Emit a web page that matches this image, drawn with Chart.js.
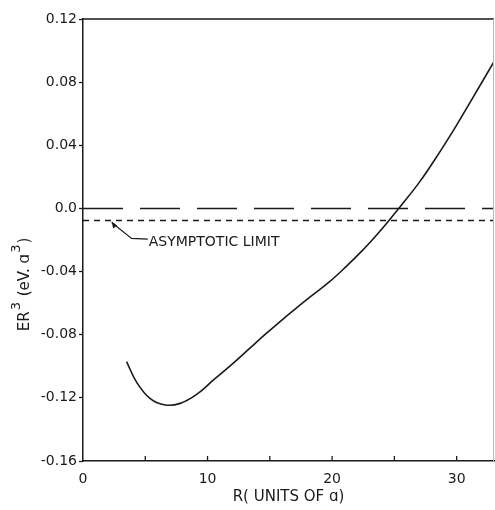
<!DOCTYPE html>
<html>
<head>
<meta charset="utf-8">
<script src="https://cdn.jsdelivr.net/npm/chart.js@4.4.1/dist/chart.umd.min.js"></script>
<style>
  html, body { margin: 0; padding: 0; background: #fff; }
  #wrap { width: 495px; height: 510px; }
</style>
</head>
<body>
<div id="wrap"><canvas id="chart" width="495" height="510"></canvas></div>
<script>
// R in units of a, and E*R^3 in eV.a^3
const rValues = [3.5, 4.3, 5.4, 6.6, 7.8, 9.1, 10.5, 12, 13.4, 14.6, 15.8, 17.1, 18.4, 19.8, 21.1, 22.4, 23.4, 24.3, 25.4, 27, 28.6, 30, 31.2, 33];
const er3Values = [-0.097, -0.110, -0.1205, -0.1245, -0.1235, -0.118, -0.1085, -0.0985, -0.0885, -0.0800, -0.0718, -0.0633, -0.0551, -0.0464, -0.0370, -0.0269, -0.0184, -0.0102, 0.0005, 0.0165, 0.0352, 0.0528, 0.0688, 0.093];

const asymptoticLimit = -0.0076;
const zeroLine = 0;
const rRange = [0, 33];

const yTicks = [0.12, 0.08, 0.04, 0.0, -0.04, -0.08, -0.12, -0.16];
const yTickLabels = ['0.12', '0.08', '0.04', '0.0', '-0.04', '-0.08', '-0.12', '-0.16'];
const xTickLabels = { 0: '0', 10: '10', 20: '20', 30: '30' };

// leader line for the asymptote note (data coords)
const noteArrow = [[2.3, -0.0076], [3.9, -0.0190], [5.2, -0.0195]];
const noteText = 'ASYMPTOTIC LIMIT';

const font = '"DejaVu Sans", sans-serif';
const ink = '#1a1a1a';

const curve = rValues.map((r, i) => ({ x: r, y: er3Values[i] }));

// frame, inward x ticks, axis titles and the note
const decorations = {
    id: 'decorations',
    afterDraw(chart) {
        const ctx = chart.ctx;
        const a = chart.chartArea;
        const xs = chart.scales.x;
        const ys = chart.scales.y;
        ctx.save();
        ctx.strokeStyle = ink;
        ctx.lineWidth = 1.5;
        ctx.beginPath();
        ctx.moveTo(a.left, a.top);
        ctx.lineTo(a.right, a.top);
        ctx.stroke();
        ctx.strokeStyle = '#bbb';
        ctx.lineWidth = 1;
        ctx.beginPath();
        ctx.moveTo(a.right - 0.5, a.top);
        ctx.lineTo(a.right - 0.5, a.bottom);
        ctx.stroke();

        ctx.strokeStyle = ink;
        ctx.lineWidth = 1.3;
        xs.ticks.forEach(t => {
            if (t.value === 0) return;
            const px = xs.getPixelForValue(t.value);
            ctx.beginPath();
            ctx.moveTo(px, a.bottom);
            ctx.lineTo(px, a.bottom - 5);
            ctx.stroke();
        });

        // asymptote note
        ctx.lineWidth = 1.2;
        ctx.beginPath();
        noteArrow.forEach(([r, v], i) => {
            const px = xs.getPixelForValue(r);
            const py = ys.getPixelForValue(v);
            if (i === 0) ctx.moveTo(px, py + 2); else ctx.lineTo(px, py);
        });
        ctx.stroke();
        const ax = xs.getPixelForValue(noteArrow[0][0]);
        const ay = ys.getPixelForValue(noteArrow[0][1]) + 1;
        ctx.fillStyle = ink;
        ctx.beginPath();
        ctx.moveTo(ax, ay);
        ctx.lineTo(ax + 1.5, ay + 7);
        ctx.lineTo(ax + 5.5, ay + 4);
        ctx.closePath();
        ctx.fill();
        const end = noteArrow[noteArrow.length - 1];
        ctx.font = '14px ' + font;
        ctx.textBaseline = 'middle';
        ctx.textAlign = 'left';
        ctx.fillText(noteText, xs.getPixelForValue(end[0]) + 1, ys.getPixelForValue(end[1]) + 3);

        // x title
        ctx.textAlign = 'center';
        ctx.font = '15px ' + font;
        ctx.fillText('R( UNITS OF \u0251)', (a.left + a.right) / 2, chart.height - 13);

        // y title, rotated, with raised exponents
        ctx.translate(25, 284);
        ctx.rotate(-Math.PI / 2);
        const parts = [['ER', false], ['3', true], [' (eV. \u0251', false], ['3', true], [')', false]];
        const fontFor = sup => (sup ? '13px ' : '15px ') + font;
        let w = 0;
        parts.forEach(([s, sup]) => {
            ctx.font = fontFor(sup);
            w += ctx.measureText(s).width + 1;
        });
        let cx = -w / 2;
        ctx.textAlign = 'left';
        parts.forEach(([s, sup]) => {
            ctx.font = fontFor(sup);
            ctx.fillText(s, cx, sup ? -8 : 0);
            cx += ctx.measureText(s).width + 1;
        });
        ctx.restore();
    }
};

new Chart(document.getElementById('chart'), {
    type: 'line',
    data: {
        datasets: [
            {
                label: 'ER3',
                data: curve,
                borderColor: ink,
                borderWidth: 1.6,
                pointRadius: 0,
                tension: 0.4,
                fill: false
            },
            {
                label: 'zero',
                data: rRange.map(r => ({ x: r, y: zeroLine })),
                borderColor: ink,
                borderWidth: 1.5,
                borderDash: [40, 17],
                pointRadius: 0,
                fill: false
            },
            {
                label: 'asymptotic limit',
                data: rRange.map(r => ({ x: r, y: asymptoticLimit })),
                borderColor: ink,
                borderWidth: 1.5,
                borderDash: [6, 5],
                pointRadius: 0,
                fill: false
            }
        ]
    },
    options: {
        responsive: false,
        animation: false,
        layout: { padding: { top: 19, right: 1, left: 0, bottom: 0 } },
        plugins: {
            legend: { display: false },
            tooltip: { enabled: false }
        },
        scales: {
            x: {
                type: 'linear',
                min: rRange[0],
                max: rRange[1],
                afterFit(scale) { scale.height = 49; },
                afterBuildTicks(scale) {
                    scale.ticks = [0, 5, 10, 15, 20, 25, 30].map(v => ({ value: v }));
                },
                grid: { display: false },
                border: { display: true, color: ink, width: 1.5 },
                ticks: {
                    color: ink,
                    font: { family: font, size: 14 },
                    padding: 2,
                    maxRotation: 0,
                    autoSkip: false,
                    callback: v => xTickLabels[v] ?? ''
                }
            },
            y: {
                type: 'linear',
                min: -0.16,
                max: 0.12,
                afterFit(scale) { scale.width = 83; },
                afterBuildTicks(scale) {
                    scale.ticks = yTicks.map(v => ({ value: v }));
                },
                grid: {
                    drawOnChartArea: false,
                    drawTicks: true,
                    tickLength: 4,
                    tickColor: ink,
                    tickWidth: 1.3
                },
                border: { display: true, color: ink, width: 1.5 },
                ticks: {
                    color: ink,
                    font: { family: font, size: 14 },
                    padding: 2,
                    autoSkip: false,
                    callback: (v) => {
                        const i = yTicks.findIndex(t => Math.abs(t - v) < 1e-9);
                        return i >= 0 ? yTickLabels[i] : '';
                    }
                }
            }
        }
    },
    plugins: [decorations]
});
</script>
</body>
</html>
